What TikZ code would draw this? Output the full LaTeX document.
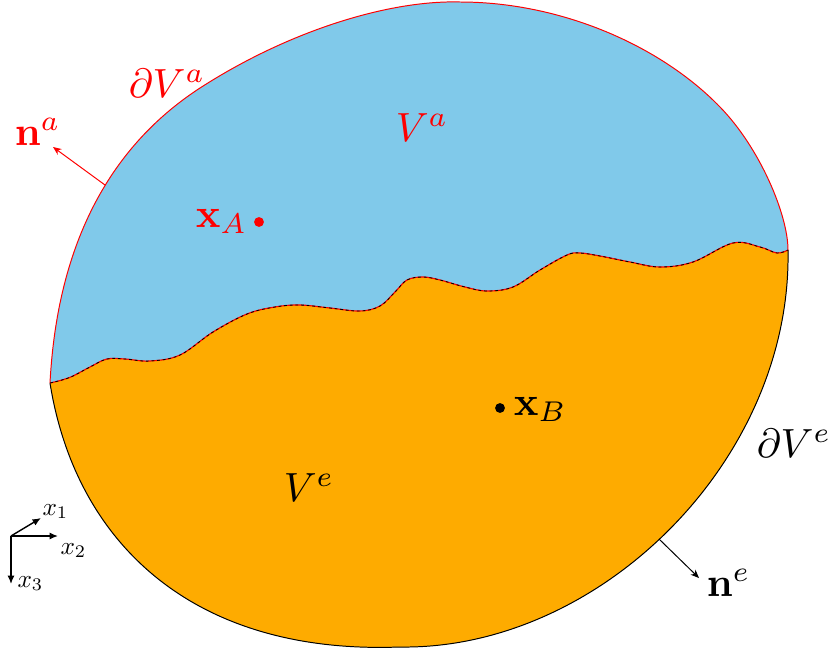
\documentclass[tikz,border=0pt]{standalone}
\usetikzlibrary{arrows.meta}
\definecolor{regionA}{RGB}{128,201,234}
\definecolor{regionE}{RGB}{254,171,0}
\begin{document}
\begin{tikzpicture}[x=0.025cm,y=-0.025cm,
  biglabel/.style={inner sep=0pt,anchor=base west,scale=2.9},
  axlabel/.style={inner sep=0pt,anchor=base west,scale=1.8},
  axarrow/.style={line width=1pt,-{Latex[length=6pt,width=5pt]}},
  normalarrow/.style={line width=0.7pt,-{Stealth[length=6pt,width=5pt]}},
  pointdot/.style={circle,fill,inner sep=0pt,minimum size=7pt}]
\useasboundingbox (0,0) rectangle (829,651);
\coordinate (L) at (50,383);
\coordinate (R) at (788,250);
\coordinate (B) at (400,647);
% whole body (blue), then lower part (orange)
\fill[regionA] (L) .. controls (58,230) and (120,140) .. (200,88)
  .. controls (290,30) and (390,0) .. (460,2)
  .. controls (560,2) and (660,45) .. (720,107)
  .. controls (760,148) and (788,215) .. (R)
  .. controls (792,460) and (600,650) .. (B)
  .. controls (190,655) and (75,540) .. (L) -- cycle;
\fill[regionE] plot[smooth,tension=0.6] coordinates {(50,383) (62,380) (73,376) (90,367) (107,359) (125,359) (150,361) (180,355) (213,332) (247,314) (275,307) (300,305) (330,308) (360,311) (380,306) (395,292) (407,280) (423,277) (440,280) (465,287) (487,291) (513,287) (540,270) (567,255) (580,253) (600,256) (630,262) (660,267) (693,262) (733,243) (760,247) (777,253) (788,250)}
  .. controls (792,460) and (600,650) .. (B)
  .. controls (190,655) and (75,540) .. (L) -- cycle;
% outer boundaries
\draw[red,line width=0.7pt] (L) .. controls (58,230) and (120,140) .. (200,88)
  .. controls (290,30) and (390,0) .. (460,2)
  .. controls (560,2) and (660,45) .. (720,107)
  .. controls (760,148) and (788,215) .. (R);
\draw[black,line width=0.7pt] (R) .. controls (792,460) and (600,650) .. (B)
  .. controls (190,655) and (75,540) .. (L);
% interface
\draw[red,line width=0.8pt] plot[smooth,tension=0.6] coordinates {(50,383) (62,380) (73,376) (90,367) (107,359) (125,359) (150,361) (180,355) (213,332) (247,314) (275,307) (300,305) (330,308) (360,311) (380,306) (395,292) (407,280) (423,277) (440,280) (465,287) (487,291) (513,287) (540,270) (567,255) (580,253) (600,256) (630,262) (660,267) (693,262) (733,243) (760,247) (777,253) (788,250)};
\draw[black,line width=0.6pt,dash pattern=on 2pt off 2pt] plot[smooth,tension=0.6] coordinates {(50,383) (62,380) (73,376) (90,367) (107,359) (125,359) (150,361) (180,355) (213,332) (247,314) (275,307) (300,305) (330,308) (360,311) (380,306) (395,292) (407,280) (423,277) (440,280) (465,287) (487,291) (513,287) (540,270) (567,255) (580,253) (600,256) (630,262) (660,267) (693,262) (733,243) (760,247) (777,253) (788,250)};
% labels
\node[biglabel,text=red] (dVa) at (128,97) {$\partial V^a$};
\node[biglabel,text=red] (Va) at (395,141) {$V^a$};
\node[biglabel,text=red] (xA) at (195,227) {$\mathbf{x}_A$};
\node[pointdot,red] (pA) at (259,222) {};
\node[pointdot,black] (pB) at (500,408) {};
\node[biglabel] (xB) at (513,415) {$\mathbf{x}_B$};
\node[biglabel] (Ve) at (283,501) {$V^e$};
\node[biglabel] (dVe) at (756,457) {$\partial V^e$};
\node[biglabel,text=red] (na) at (14,145) {$\mathbf{n}^a$};
\node[biglabel] (ne) at (706,596) {$\mathbf{n}^e$};
% normals
\coordinate (naStart) at (105,185);
\coordinate (naTip) at (53,147);
\coordinate (neStart) at (659,539);
\coordinate (neTip) at (699,578);
\draw[normalarrow,red] (naStart) -- (naTip);
\draw[normalarrow,black] (neStart) -- (neTip);
% axes
\coordinate (O) at (11,536);
\coordinate (e1) at (41,518);
\coordinate (e2) at (58,536);
\coordinate (e3) at (11,584);
\draw[axarrow] (O) -- (e1);
\draw[axarrow] (O) -- (e2);
\draw[axarrow] (O) -- (e3);
\node[axlabel] (x1) at (42,515) {$x_1$};
\node[axlabel] (x2) at (60,554) {$x_2$};
\node[axlabel] (x3) at (17,587) {$x_3$};
\end{tikzpicture}
\end{document}
